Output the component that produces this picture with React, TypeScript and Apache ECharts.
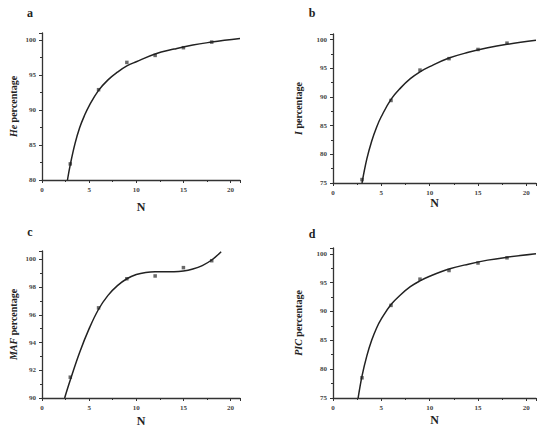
import React, { useEffect, useRef } from "react";
import * as echarts from "echarts";

// Observed points (N = number of markers)
const N_POINTS = [3, 6, 9, 12, 15, 18];
const HE_VALUES = [82.3, 92.9, 96.8, 97.8, 98.9, 99.7];
const I_VALUES = [75.6, 89.4, 94.7, 96.7, 98.3, 99.4];
const MAF_VALUES = [91.5, 96.5, 98.6, 98.8, 99.4, 99.9];
const PIC_VALUES = [78.5, 91.05, 95.6, 97.1, 98.4, 99.3];

// Fitted curves: [N, value]
const HE_FIT: [number, number][] = [
  [2.7, 80], [3, 82.2], [3.5, 85.2], [4, 87.5], [4.5, 89.2], [5, 90.6], [6, 92.8], [7, 94.3],
  [8, 95.4], [9, 96.3], [10, 96.9], [12, 98.0], [14, 98.7], [16, 99.3], [18, 99.7], [21, 100.2],
];
const I_FIT: [number, number][] = [
  [3, 75], [3.5, 79.2], [4, 82.3], [4.5, 84.7], [5, 86.6], [6, 89.6], [7, 91.6], [8, 93.2],
  [9, 94.4], [10, 95.3], [12, 96.8], [14, 97.8], [16, 98.6], [18, 99.2], [21, 99.9],
];
const MAF_FIT: [number, number][] = [
  [2.4, 90], [3, 91.3], [4, 93.3], [5, 95.0], [6, 96.4], [7, 97.4], [8, 98.1],
  [9, 98.6], [10, 98.9], [11, 99.05], [12, 99.1], [13, 99.1], [14, 99.1], [15, 99.15],
  [16, 99.3], [17, 99.55], [18, 99.95], [19, 100.55],
];
const PIC_FIT: [number, number][] = [
  [2.6, 75], [3, 78.8], [3.5, 82.3], [4, 85], [4.5, 87.1], [5, 88.7], [6, 91.2], [7, 92.9],
  [8, 94.3], [9, 95.3], [10, 96.1], [12, 97.35], [14, 98.2], [16, 98.9], [18, 99.4], [21, 100],
];

// Axis ranges / tick steps
const X_RANGE = [0, 21];
const X_STEP = 5;
const HE_RANGE = [80, 101];
const I_RANGE = [75, 101];
const MAF_RANGE = [90, 100.6];
const PIC_RANGE = [75, 101];
const Y_STEPS = [5, 5, 2, 5];

const PANEL_LABELS = ["a", "b", "c", "d"];
const Y_NAMES = ["He", "I", "MAF", "PIC"];

const FONT = "Liberation Serif";

export default function App() {
  const ref = useRef<HTMLDivElement>(null);

  useEffect(() => {
    if (!ref.current) return;
    const chart = echarts.init(ref.current, null, { renderer: "svg" });

    const panels = [
      { grid: { left: 42, top: 33, width: 198, height: 147 }, yr: HE_RANGE, pts: HE_VALUES, fit: HE_FIT, yGap: 24, xGap: 21, lab: [30, 13] },
      { grid: { left: 333, top: 34, width: 203, height: 149 }, yr: I_RANGE, pts: I_VALUES, fit: I_FIT, yGap: 30, xGap: 8, lab: [312, 13] },
      { grid: { left: 42, top: 251, width: 198, height: 147 }, yr: MAF_RANGE, pts: MAF_VALUES, fit: MAF_FIT, yGap: 24, xGap: 17, lab: [30, 232] },
      { grid: { left: 333, top: 248, width: 203, height: 150 }, yr: PIC_RANGE, pts: PIC_VALUES, fit: PIC_FIT, yGap: 30, xGap: 16, lab: [312, 234] },
    ];

    const grids: any[] = [];
    const xAxes: any[] = [];
    const yAxes: any[] = [];
    const series: any[] = [];
    const graphics: any[] = [];

    const axisLine = { show: true, onZero: false, lineStyle: { color: "#333", width: 1.3 } };
    const labelStyle = { fontFamily: FONT, fontSize: 7, fontWeight: "bold", color: "#444", showMaxLabel: false };
    const tickStyle = { color: "#333", width: 1 };

    panels.forEach((p, i) => {
      grids.push({ ...p.grid, containLabel: false });
      xAxes.push({
        type: "value", gridIndex: i, min: X_RANGE[0], max: X_RANGE[1], interval: X_STEP, position: "bottom",
        axisLine,
        axisTick: { show: true, length: 3, lineStyle: tickStyle },
        minorTick: { show: true, splitNumber: 2, length: 2, lineStyle: tickStyle },
        axisLabel: { ...labelStyle, margin: 6 },
        splitLine: { show: false },
        name: "N", nameLocation: "middle", nameGap: p.xGap,
        nameTextStyle: { fontFamily: FONT, fontSize: 12, fontWeight: "bold", color: "#222" },
      });
      yAxes.push({
        type: "value", gridIndex: i, min: p.yr[0], max: p.yr[1], interval: Y_STEPS[i], position: "left",
        axisLine,
        axisTick: { show: true, length: 3, lineStyle: tickStyle },
        minorTick: { show: true, splitNumber: 2, length: 2, lineStyle: tickStyle },
        axisLabel: { ...labelStyle, margin: 6 },
        splitLine: { show: false },
        name: `{i|${Y_NAMES[i]}}{n| percentage}`,
        nameLocation: "middle", nameRotate: 90, nameGap: p.yGap,
        nameTextStyle: {
          fontFamily: FONT, fontSize: 10, fontWeight: "bold", color: "#222",
          rich: {
            i: { fontFamily: FONT, fontSize: 10, fontWeight: "bold", fontStyle: "italic", color: "#222" },
            n: { fontFamily: FONT, fontSize: 10, fontWeight: "bold", color: "#222" },
          },
        },
      });

      series.push({
        type: "line", xAxisIndex: i, yAxisIndex: i,
        data: p.fit, smooth: 0.4, showSymbol: false, clip: true,
        lineStyle: { color: "#222", width: 1.5 },
      });
      series.push({
        type: "scatter", xAxisIndex: i, yAxisIndex: i,
        data: N_POINTS.map((n, k) => [n, p.pts[k]]),
        symbol: "rect", symbolSize: 3.5,
        itemStyle: { color: "#444" },
      });

      graphics.push({
        type: "text", x: p.lab[0], y: p.lab[1],
        style: {
          text: PANEL_LABELS[i], fontFamily: FONT, fontSize: 12, fontWeight: "bold",
          fill: "#222", align: "center", verticalAlign: "middle",
        },
      });
    });

    chart.setOption({
      animation: false,
      backgroundColor: "#fff",
      grid: grids,
      xAxis: xAxes,
      yAxis: yAxes,
      series,
      graphic: graphics,
    });

    return () => chart.dispose();
  }, []);

  return (
    <div
      ref={ref}
      style={{ position: "absolute", left: 0, top: 0, width: 550, height: 434, background: "#fff" }}
    />
  );
}
